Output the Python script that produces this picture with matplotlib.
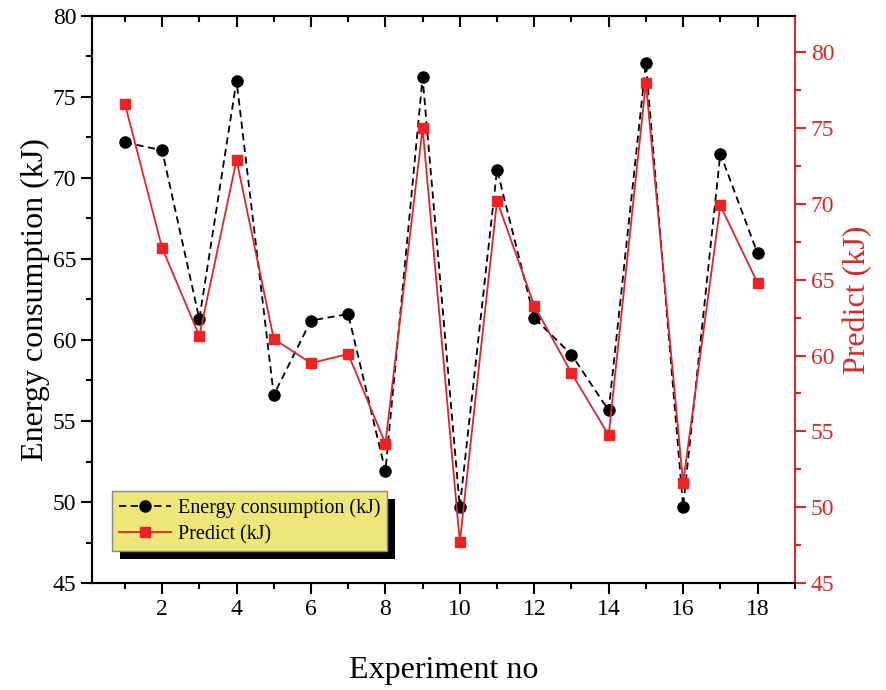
import numpy as np
import matplotlib
matplotlib.use("Agg")
import matplotlib.pyplot as plt
from matplotlib.patches import Rectangle
from matplotlib.ticker import MultipleLocator

plt.rcParams['font.family'] = ['Liberation Serif', 'DejaVu Serif']

# data
experiment = list(range(1, 19))
energy = [72.2, 71.7, 61.3, 76.0, 56.6, 61.2, 61.6, 51.9, 76.2,
          49.7, 70.5, 61.35, 59.1, 55.65, 77.1, 49.7, 71.5, 65.35]
predict = [76.6, 67.1, 61.3, 72.9, 61.1, 59.5, 60.1, 54.2, 75.0,
           47.7, 70.2, 63.3, 58.85, 54.75, 78.0, 51.6, 69.9, 64.8]

red = '#d42a2a'

fig = plt.figure(figsize=(8.86, 6.9), dpi=100)
ax = fig.add_axes([0.104, 0.155, 0.793, 0.822])
ax2 = ax.twinx()

l1, = ax.plot(experiment, energy, color='black', ls='--', dashes=(4, 2.5), lw=1.3,
              marker='o', ms=8, mfc='black', mec='black', zorder=3,
              label='Energy consumption (kJ)')
l2, = ax2.plot(experiment, predict, color=red, lw=1.3, marker='s', ms=7.5,
               mfc='#ee2222', mec='#ee2222', label='Predict (kJ)')

ax.set_xlim(0.12, 19)
ax.set_ylim(45, 80)
ax2.set_ylim(45, 82.4)

ax.xaxis.set_major_locator(MultipleLocator(2))
ax.xaxis.set_minor_locator(MultipleLocator(1))
ax.yaxis.set_major_locator(MultipleLocator(5))
ax.yaxis.set_minor_locator(MultipleLocator(2.5))
ax2.yaxis.set_major_locator(MultipleLocator(5))
ax2.yaxis.set_minor_locator(MultipleLocator(2.5))

ax.tick_params(axis='both', which='major', labelsize=17, length=8, width=1.5, direction='out')
ax.tick_params(axis='both', which='minor', length=4, width=1.5, direction='out')
ax.tick_params(axis='y', which='both', right=False)
ax.tick_params(axis='x', which='both', top=False)
# top ticks point inward (drawn from the twin, which shares x)
ax2.xaxis.set_visible(True)
ax2.tick_params(axis='x', which='both', top=True, bottom=False, direction='in',
                labeltop=False, labelbottom=False, width=1.5)
ax2.tick_params(axis='x', which='major', length=8)
ax2.tick_params(axis='x', which='minor', length=4)
ax2.tick_params(axis='y', which='major', labelsize=17, length=8, width=1.5,
                direction='out', colors=red)
ax2.tick_params(axis='y', which='minor', length=4, width=1.5, direction='out', colors=red)

for s in ['left', 'bottom', 'top']:
    ax.spines[s].set_linewidth(1.5)
    ax2.spines[s].set_linewidth(1.5)
ax2.spines['right'].set_color(red)
ax2.spines['right'].set_linewidth(1.5)
ax.spines['right'].set_visible(False)

ax.set_xlabel('Experiment no', fontsize=23, labelpad=26)
ax.set_ylabel('Energy consumption (kJ)', fontsize=23, labelpad=2)
ax2.set_ylabel('Predict (kJ)', fontsize=23, color=red, labelpad=6)

leg = ax2.legend([l1, l2], [l1.get_label(), l2.get_label()], loc='lower left',
                 bbox_to_anchor=(0.014, 0.038), fontsize=14.5, handlelength=2.6,
                 facecolor='#ede779', edgecolor='#888888', framealpha=1,
                 fancybox=False, borderpad=0.35, labelspacing=0.35,
                 handletextpad=0.3)
leg.get_frame().set_linewidth(1.0)

fig.canvas.draw()
bb = leg.get_window_extent()
W, H = fig.bbox.width, fig.bbox.height
shadow = Rectangle(((bb.x0 + 8) / W, (bb.y0 - 8) / H), bb.width / W, bb.height / H,
                   transform=fig.transFigure, facecolor='black', edgecolor='none',
                   zorder=2)
fig.patches.append(shadow)
ax.set_zorder(3)
ax2.set_zorder(4)
ax.patch.set_visible(False)
ax2.patch.set_visible(False)

fig.savefig('out.png', dpi=100)
